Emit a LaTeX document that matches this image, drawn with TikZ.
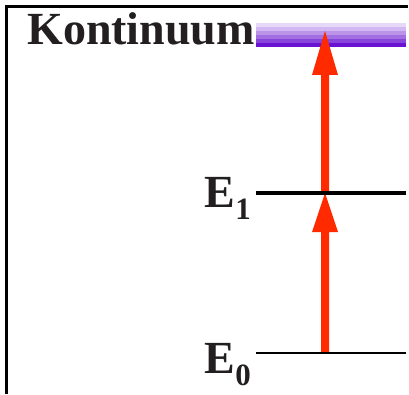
\documentclass[tikz,border=0pt]{standalone}
\usepackage{fontspec}
\setmainfont{Liberation Serif}
\definecolor{txt}{HTML}{231F20}
\definecolor{arr}{HTML}{FF2A00}
\definecolor{pA}{HTML}{E6D8F8}
\definecolor{pB}{HTML}{D2B8F2}
\definecolor{pC}{HTML}{BB94EA}
\definecolor{pD}{HTML}{A26FE2}
\definecolor{pE}{HTML}{8845D9}
\definecolor{pF}{HTML}{6A12D2}
\tikzset{
  lbl/.style={inner sep=0pt, text=txt, font=\bfseries\fontsize{46}{46}\selectfont},
  level/.style={draw=black, line width=#1},
  redarrow/.style={fill=arr, draw=none}
}
\newcommand{\subdig}[1]{\raisebox{-12pt}{\fontsize{31}{31}\selectfont #1}}
\begin{document}
\begin{tikzpicture}[x=1pt,y=1pt]
\useasboundingbox (0,0) rectangle (409,394);
% frame
\draw[line width=3pt] (408,387) -- (6.5,387) -- (6.5,0);
% continuum band
\foreach \c [count=\i] in {pA,pB,pC,pD,pE,pF}{
  \fill[\c] (256,{371-(\i-1)*4}) rectangle (406,{367-(\i-1)*4});
}
% arrows
\coordinate (t1) at (325,363);
\coordinate (t0) at (325,201);
\fill[redarrow] (t1) -- (338,319) -- (329,319) -- (329,201) -- (321,201) -- (321,319) -- (312,319) -- cycle;
\fill[redarrow] (t0) -- (338,162) -- (329,162) -- (329,41) -- (321,41) -- (321,162) -- (312,162) -- cycle;
% levels
\coordinate (e1a) at (256,201);
\coordinate (e1b) at (406,201);
\coordinate (e0a) at (256,41);
\coordinate (e0b) at (406,41);
\draw[level=4.5pt] (e1a) -- (e1b);
\draw[level=2.5pt] (e0a) -- (e0b);
% labels
\node[lbl, anchor=base east] (kont) at (255,349) {Kontinuum};
\node[lbl, anchor=base east] (E1) at (251,187) {E\subdig{1}};
\node[lbl, anchor=base east] (E0) at (251,21) {E\subdig{0}};
\end{tikzpicture}
\end{document}
